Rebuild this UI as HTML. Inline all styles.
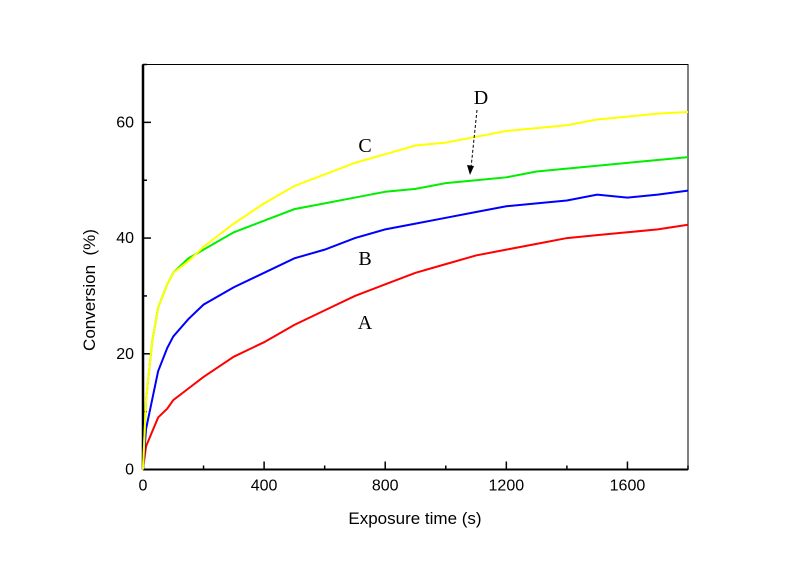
<!DOCTYPE html>
<html><head><meta charset="utf-8"><style>body{margin:0;background:#fff}svg{display:block}</style></head>
<body>
<svg id="chart" width="800" height="565" xmlns="http://www.w3.org/2000/svg" font-family="Liberation Sans, sans-serif">
<g id="axes"></g>
<g id="series"></g>
<text x="365" y="152" font-family="Liberation Serif, serif" font-size="20" text-anchor="middle">C</text>
<text x="365" y="265" font-family="Liberation Serif, serif" font-size="20" text-anchor="middle">B</text>
<text x="365" y="329" font-family="Liberation Serif, serif" font-size="20" text-anchor="middle">A</text>
<text x="481" y="104" font-family="Liberation Serif, serif" font-size="20" text-anchor="middle">D</text>
<line x1="477" y1="110" x2="471" y2="168" stroke="#000" stroke-width="1" stroke-dasharray="3,2"/>
<polygon points="470,175 467,165 474,166" fill="#000"/>
<text x="415" y="524" font-size="17" text-anchor="middle">Exposure time (s)</text>
<text transform="translate(95,290) rotate(-90)" font-size="17" text-anchor="middle">Conversion&#160;&#160;(%)</text>
</svg>
<script>
const times=[0,10,30,50,80,100,150,200,300,400,500,600,700,800,900,1000,1100,1200,1300,1400,1500,1600,1700,1800];
const seriesA=[0,4,6.5,9,10.5,12,14,16,19.5,22,25,27.5,30,32,34,35.5,37,38,39,40,40.5,41,41.5,42.3];
const seriesB=[0,7,12,17,21,23,26,28.5,31.5,34,36.5,38,40,41.5,42.5,43.5,44.5,45.5,46,46.5,47.5,47,47.5,48.2];
const seriesC=[0,12,22,28,32,34,36,38.5,42.5,46,49,51,53,54.5,56,56.5,57.5,58.5,59,59.5,60.5,61,61.5,61.8];
const seriesD=[0,12,22,28,32,34,36.5,38,41,43,45,46,47,48,48.5,49.5,50,50.5,51.5,52,52.5,53,53.5,54];
const xTicks=[0,400,800,1200,1600];
const yTicks=[0,20,40,60];
const X0=143,X1=688,Y0=469.5,Y1=64.5;
const xs=v=>X0+v*(X1-X0)/1800;
const ys=v=>Y0-v*(Y0-Y1)/70;
const NS="http://www.w3.org/2000/svg";
const ax=document.getElementById('axes'),sg=document.getElementById('series');
function mk(tag,attrs,parent){const e=document.createElementNS(NS,tag);for(const k in attrs)e.setAttribute(k,attrs[k]);parent.appendChild(e);return e;}
const frame=mk('rect',{x:X0,y:Y1,width:X1-X0,height:Y0-Y1,fill:'none',stroke:'#000','stroke-width':1},ax);


const la=mk('line',{x1:X0,y1:Y1,x2:X0,y2:Y0,stroke:'#000','stroke-width':2.5},ax);


const ba=mk('line',{x1:X0,y1:Y0,x2:X1,y2:Y0,stroke:'#000','stroke-width':2},ax);


for(let v=0;v<=1800;v+=200){const maj=v%400===0;const t=mk('line',{x1:xs(v),y1:Y0,x2:xs(v),y2:Y0-(maj?8:4),stroke:'#000','stroke-width':1.5},ax);

}
xTicks.forEach(v=>{const t=mk('text',{x:xs(v),y:Y0+21,'font-size':16,'text-anchor':'middle'},ax);t.textContent=v;

});
for(let v=0;v<=70;v+=10){const maj=v%20===0;const t=mk('line',{x1:X0,y1:ys(v),x2:X0+(maj?8:4),y2:ys(v),stroke:'#000','stroke-width':1.5},ax);

}
yTicks.forEach(v=>{const t=mk('text',{x:X0-9,y:ys(v)+5,'font-size':16,'text-anchor':'end'},ax);t.textContent=v;

});
[[seriesA,'#ff0000','series-a'],[seriesB,'#0000ff','series-b'],[seriesD,'#00ee00','series-d'],[seriesC,'#ffff00','series-c']].forEach(([d,c,n])=>{
const p=mk('polyline',{points:times.map((t,i)=>xs(t)+','+ys(d[i])).join(' '),fill:'none',stroke:c,'stroke-width':2},sg);

});
</script>
</body></html>
